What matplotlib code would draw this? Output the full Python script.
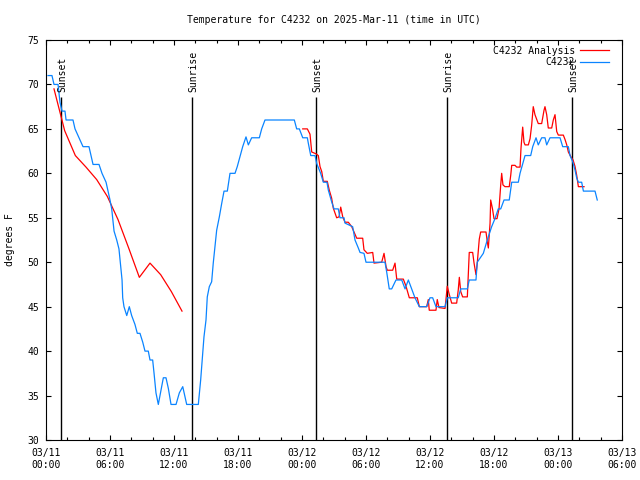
import numpy as np
import matplotlib
matplotlib.use("Agg")
import matplotlib.pyplot as plt
from matplotlib.ticker import MultipleLocator

# hours since 2025-03-11 00:00 UTC
obs_hours = [0.19, 0.56, 0.75, 1.13, 1.31, 1.5, 1.78, 1.88, 2.53, 2.72, 3.09, 3.47, 4.03, 4.22,
             4.41, 4.97, 5.25, 5.63, 6.0, 6.16, 6.38, 6.63, 6.84, 7.0, 7.13, 7.19, 7.31, 7.57,
             7.81, 8.03, 8.34, 8.56, 8.81, 9.07, 9.28, 9.59, 9.75, 10.0, 10.13, 10.31, 10.53,
             10.75, 11.0, 11.25, 11.47, 11.72, 12.19, 12.5, 12.82, 13.19, 14.28, 14.5, 14.69,
             14.81, 15.0, 15.12, 15.31, 15.53, 15.68, 15.84, 16.0, 16.25, 16.47, 16.69, 17.0,
             17.25, 17.72, 17.93, 18.19, 18.44, 18.75, 18.97, 19.28, 20.0, 20.22, 20.53, 23.28,
             23.5, 23.75, 24.07, 24.5, 24.59, 24.82, 25.22, 25.38, 25.75, 26.0, 26.34, 26.47,
             26.78, 27.0, 27.4, 27.56, 27.94, 28.03, 28.75, 28.97, 29.28, 29.44, 29.81, 30.0,
             31.78, 31.94, 32.18, 32.41, 32.81, 33.35, 33.66, 33.97, 34.28, 34.59, 35.0, 35.69,
             36.0, 36.25, 36.56, 37.41, 37.62, 38.65, 38.88, 39.5, 39.68, 40.31, 40.43, 41.0,
             41.32, 41.78, 42.09, 42.4, 42.63, 42.94, 43.43, 43.66, 44.28, 44.44, 44.91, 45.44,
             45.63, 45.94, 46.15, 46.47, 46.78, 46.94, 47.25, 48.19, 48.44, 48.97, 49.13, 49.38,
             49.59, 49.75, 49.91, 50.22, 50.38, 51.47, 51.68]
obs_temp = [71, 71, 70, 70, 68, 67, 67, 66, 66, 65, 64, 63, 63, 62,
            61, 61, 60, 59, 57, 56, 53.5, 52.5, 51.5, 49.5, 48, 46, 45, 44,
            45, 44, 43, 42, 42, 41, 40, 40, 39, 39, 37.5, 35.3, 34,
            35.4, 37, 37, 35.8, 34, 34, 35.3, 36, 34, 34, 36.75, 39.8,
            41.6, 43.5, 46.1, 47.25, 47.8, 49.9, 51.75, 53.6, 55.1, 56.6, 58, 58,
            60, 60, 60.75, 61.9, 63, 64.1, 63.2, 64, 64, 65, 66, 66,
            65, 65, 64, 64, 63.4, 62, 62, 61.1, 60, 59, 59, 58.1,
            56.8, 56, 56, 55, 55, 54.4, 54, 52.5, 51.6, 51.1, 51, 50,
            50, 48.9, 47, 47, 48, 48, 47, 48, 47, 46, 45, 45,
            46, 46, 45, 45, 46, 46, 47, 47, 48, 48, 50, 51,
            52.3, 54, 54.9, 56, 56, 57, 57, 59, 59, 60, 62, 62,
            63, 64, 63.2, 64, 64, 63.2, 64, 64, 63, 63, 62, 61.3,
            60.4, 59.5, 59, 59, 58, 58, 57]

# analysis, first run (hourly)
anal1_hours = [0.75, 1.75, 2.75, 3.75, 4.75, 5.75, 6.75, 7.75, 8.75, 9.75, 10.75, 11.75, 12.75]
anal1_temp = [69.5, 64.8, 62.0, 60.7, 59.3, 57.4, 54.8, 51.6, 48.3, 49.9, 48.6, 46.7, 44.5]

# analysis, second run
anal2_hours = [24.07, 24.5, 24.75, 24.91, 25.31, 25.53, 25.69, 25.85, 26.0, 26.37, 26.56, 26.78,
               26.93, 27.25, 27.47, 27.63, 27.82, 28.03, 28.34, 28.66, 29.13, 29.69, 29.81,
               30.12, 30.63, 30.75, 31.47, 31.69, 31.88, 32.0, 32.5, 32.72, 32.88, 33.5, 33.75,
               34.06, 34.81, 35.0, 35.69, 35.84, 35.93, 36.56, 36.68, 36.84, 37.41, 37.62,
               37.78, 38.03, 38.5, 38.65, 38.75, 38.88, 39.06, 39.5, 39.68, 40.0, 40.13, 40.31,
               40.43, 40.62, 40.75, 41.25, 41.37, 41.47, 41.63, 41.69, 41.86, 42.0, 42.28,
               42.47, 42.63, 42.72, 42.84, 43.03, 43.43, 43.57, 43.66, 43.97, 44.13, 44.44,
               44.53, 44.69, 44.81, 44.91, 45.22, 45.38, 45.53, 45.68, 45.84, 46.15, 46.47,
               46.69, 46.78, 46.94, 47.09, 47.41, 47.56, 47.72, 47.88, 48.03, 48.5, 48.66,
               48.82, 48.97, 49.19, 49.41, 49.59, 49.75, 49.91, 50.44]
anal2_temp = [65, 65, 64.4, 62.4, 62.2, 62, 60.75, 60.2, 59.1, 59.1, 58.1, 57.2,
              56.1, 55, 55.1, 56.2, 55.1, 54.5, 54.5, 54, 52.7, 52.7, 51.4,
              51, 51.1, 49.9, 50, 51, 49.5, 49.1, 49.1, 49.9, 48.1, 48.1, 47.3,
              46, 46, 45, 45, 45.8, 44.6, 44.6, 45.8, 44.9, 44.8, 47.3,
              46.5, 45.4, 45.4, 46.9, 48.3, 46.7, 46.1, 46.1, 51.1, 51.1, 49.9, 48.6,
              49.9, 52.6, 53.4, 53.4, 52.3, 51.6, 54.4, 57, 56, 54.9, 54.9,
              56, 58.7, 60, 58.7, 58.5, 58.5, 59.8, 60.9, 60.9, 60.7, 60.7,
              62.8, 65.2, 63.5, 63.2, 63.2, 63.9, 65.4, 67.5, 66.6, 65.6, 65.6,
              67.1, 67.5, 66.6, 65.1, 65.1, 66, 66.6, 64.7, 64.3, 64.3, 63.8,
              63.2, 62.4, 61.9, 61.5, 60.8, 59.8, 58.5, 58.5]

sun_hours = [1.43, 13.72, 25.35, 37.62, 49.35]
sun_labels = ["Sunset", "Sunrise", "Sunset", "Sunrise", "Sunset"]

tick_hours = [0, 6, 12, 18, 24, 30, 36, 42, 48, 54]
tick_labels = ["03/11\n00:00", "03/11\n06:00", "03/11\n12:00", "03/11\n18:00", "03/12\n00:00",
               "03/12\n06:00", "03/12\n12:00", "03/12\n18:00", "03/13\n00:00", "03/13\n06:00"]

plt.rcParams['font.family'] = 'DejaVu Sans Mono'
plt.rcParams['font.size'] = 7

fig = plt.figure(figsize=(6.4, 4.8), dpi=100)
ax = fig.add_axes([46 / 640, 40 / 480, 576 / 640, 400 / 480])

# sunrise / sunset markers
ax.vlines(sun_hours, 30, 68.6, color='black', lw=1.0)
for h, lab in zip(sun_hours, sun_labels):
    ax.text(h + 0.1, 69.1, lab, rotation=90, rotation_mode='anchor',
            ha='left', va='center', fontsize=7)

ax.plot(anal1_hours, anal1_temp, color='#ff0000', lw=0.9, label='C4232 Analysis')
ax.plot(anal2_hours, anal2_temp, color='#ff0000', lw=0.9)
ax.plot(obs_hours, obs_temp, color='#0a84ff', lw=0.9, label='C4232')

ax.set_xlim(0, 54)
ax.set_ylim(30, 75)
ax.set_xticks(tick_hours)
ax.set_xticklabels(tick_labels)
ax.xaxis.set_minor_locator(MultipleLocator(2))
ax.yaxis.set_major_locator(MultipleLocator(5))
ax.tick_params(which='both', direction='in', top=True, right=True, width=0.8)
ax.tick_params(which='major', length=3.5)
ax.tick_params(which='minor', length=2.5)
ax.tick_params(axis='x', pad=6)
ax.tick_params(axis='y', pad=5)
for s in ax.spines.values():
    s.set_linewidth(0.8)

ax.set_title("Temperature for C4232 on 2025-Mar-11 (time in UTC)", fontsize=7, pad=12)
ax.set_ylabel("degrees F")
ax.yaxis.set_label_coords(-0.053, 0.5)

ax.legend(loc='upper right', frameon=False, markerfirst=False, handlelength=3.0,
          handletextpad=0.5, labelspacing=0.15, borderaxespad=0.2,
          bbox_to_anchor=(0.988, 1.0))

fig.savefig("out.png", dpi=100)
